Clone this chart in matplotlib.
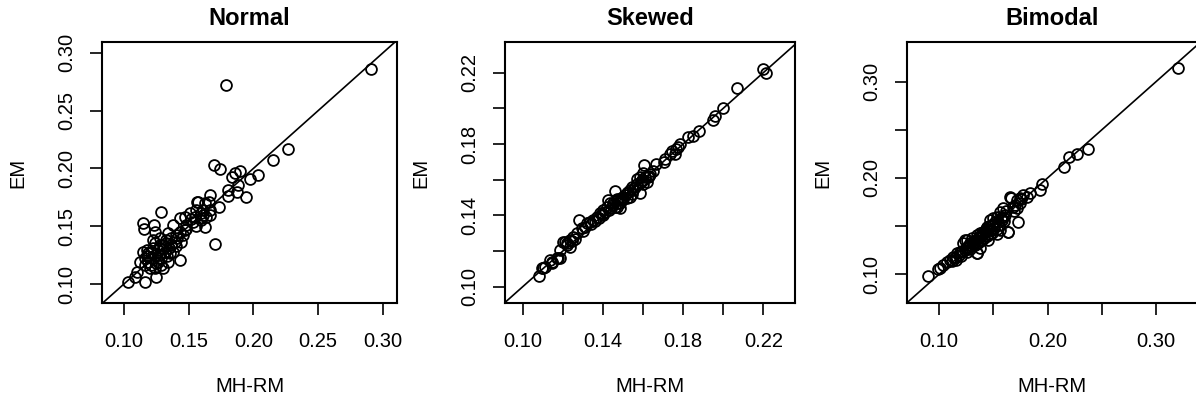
import numpy as np
import matplotlib
matplotlib.use("Agg")
import matplotlib.pyplot as plt

plt.rcParams['font.family'] = ['Liberation Sans', 'DejaVu Sans']

titles = ["Normal", "Skewed", "Bimodal"]

# Normal: (MH-RM, EM) pairs
normal_mhrm = [0.2910, 0.1790, 0.2265, 0.2149, 0.2034, 0.1970, 0.1939, 0.1893, 0.1854, 0.1836,
               0.1880, 0.1875, 0.1803, 0.1803, 0.1693, 0.1739, 0.1731, 0.1667, 0.1657, 0.1700,
               0.1623, 0.1611, 0.1662, 0.1636, 0.1598, 0.1662, 0.1623, 0.1572, 0.1598, 0.1559,
               0.1508, 0.1533, 0.1469, 0.1431, 0.1482, 0.1431, 0.1405, 0.1341, 0.1328, 0.1277,
               0.1239, 0.1226, 0.1175, 0.1149, 0.1162, 0.1187, 0.1213, 0.1239, 0.1264, 0.1290,
               0.1316, 0.1354, 0.1367, 0.1392, 0.1431, 0.1251, 0.1162, 0.1098, 0.1085, 0.1033,
               0.1123, 0.1290, 0.1149, 0.1154, 0.1233, 0.1239, 0.1379, 0.1187, 0.1239, 0.1264,
               0.1303, 0.1328, 0.1226, 0.1200, 0.1303, 0.1341, 0.1380, 0.1290, 0.1162, 0.1444,
               0.1469, 0.1567, 0.1598, 0.1546, 0.1483, 0.1520, 0.1410, 0.1350, 0.1270, 0.1210,
               0.1250, 0.1330, 0.1400, 0.1180, 0.1300, 0.1460, 0.1560, 0.1610, 0.1280, 0.1360]
normal_em = [0.2860, 0.2722, 0.2169, 0.2073, 0.1944, 0.1906, 0.1756, 0.1981, 0.1958, 0.1929,
             0.1857, 0.1794, 0.1814, 0.1762, 0.2030, 0.1993, 0.1664, 0.1771, 0.1713, 0.1347,
             0.1497, 0.1641, 0.1641, 0.1583, 0.1554, 0.1598, 0.1698, 0.1713, 0.1569, 0.1641,
             0.1612, 0.1540, 0.1583, 0.1569, 0.1511, 0.1453, 0.1424, 0.1439, 0.1381, 0.1396,
             0.1352, 0.1309, 0.1295, 0.1280, 0.1223, 0.1194, 0.1165, 0.1136, 0.1194, 0.1223,
             0.1280, 0.1266, 0.1338, 0.1367, 0.1208, 0.1064, 0.1021, 0.1107, 0.1064, 0.1021,
             0.1194, 0.1626, 0.1526, 0.1476, 0.1511, 0.1453, 0.1511, 0.1266, 0.1252, 0.1295,
             0.1338, 0.1352, 0.1381, 0.1136, 0.1136, 0.1194, 0.1280, 0.1165, 0.1165, 0.1367,
             0.1468, 0.1707, 0.1612, 0.1583, 0.1476, 0.1560, 0.1400, 0.1310, 0.1250, 0.1280,
             0.1180, 0.1240, 0.1330, 0.1240, 0.1300, 0.1420, 0.1500, 0.1600, 0.1340, 0.1400]

skewed_mhrm = [0.2200, 0.2212, 0.2067, 0.2000, 0.1959, 0.1951, 0.1880, 0.1849, 0.1825, 0.1783,
               0.1777, 0.1767, 0.1743, 0.1735, 0.1758, 0.1712, 0.1704, 0.1667, 0.1603, 0.1652,
               0.1637, 0.1627, 0.1602, 0.1586, 0.1571, 0.1594, 0.1619, 0.1585, 0.1535, 0.1518,
               0.1543, 0.1502, 0.1494, 0.1485, 0.1535, 0.1469, 0.1461, 0.1427, 0.1435, 0.1419,
               0.1402, 0.1385, 0.1369, 0.1352, 0.1336, 0.1319, 0.1311, 0.1294, 0.1452, 0.1469,
               0.1485, 0.1281, 0.1269, 0.1253, 0.1236, 0.1219, 0.1203, 0.1186, 0.1169, 0.1136,
               0.1103, 0.1082, 0.1186, 0.1144, 0.1095, 0.1112, 0.1145, 0.1178, 0.1211, 0.1220,
               0.1236, 0.1400, 0.1410, 0.1380, 0.1440, 0.1450, 0.1475, 0.1500, 0.1510, 0.1525,
               0.1550, 0.1560, 0.1570, 0.1590, 0.1600, 0.1610, 0.1340, 0.1360, 0.1395, 0.1430,
               0.1460, 0.1520, 0.1545, 0.1490, 0.1470, 0.1300, 0.1260, 0.1245, 0.1600, 0.1630]
skewed_em = [0.2222, 0.2201, 0.2114, 0.2003, 0.1960, 0.1935, 0.1871, 0.1846, 0.1839, 0.1800,
             0.1785, 0.1770, 0.1762, 0.1747, 0.1742, 0.1715, 0.1700, 0.1688, 0.1685, 0.1650,
             0.1632, 0.1614, 0.1635, 0.1616, 0.1605, 0.1597, 0.1588, 0.1524, 0.1543, 0.1524,
             0.1561, 0.1505, 0.1487, 0.1468, 0.1505, 0.1487, 0.1535, 0.1487, 0.1468, 0.1449,
             0.1430, 0.1412, 0.1393, 0.1374, 0.1365, 0.1356, 0.1337, 0.1328, 0.1459, 0.1449,
             0.1440, 0.1372, 0.1300, 0.1281, 0.1262, 0.1244, 0.1253, 0.1206, 0.1159, 0.1150,
             0.1103, 0.1061, 0.1159, 0.1141, 0.1103, 0.1113, 0.1131, 0.1159, 0.1253, 0.1234,
             0.1225, 0.1400, 0.1420, 0.1385, 0.1440, 0.1470, 0.1470, 0.1490, 0.1515, 0.1530,
             0.1545, 0.1560, 0.1575, 0.1590, 0.1600, 0.1615, 0.1350, 0.1370, 0.1410, 0.1430,
             0.1445, 0.1500, 0.1520, 0.1500, 0.1490, 0.1310, 0.1270, 0.1255, 0.1575, 0.1620]

bimodal_mhrm = [0.3207, 0.2377, 0.2270, 0.2202, 0.2156, 0.1947, 0.1931, 0.1839, 0.1808, 0.1778,
                0.1747, 0.1716, 0.1747, 0.1716, 0.1661, 0.1639, 0.1731, 0.1593, 0.1562, 0.1532,
                0.1547, 0.1501, 0.1470, 0.1485, 0.1439, 0.1455, 0.1409, 0.1378, 0.1347, 0.1301,
                0.1286, 0.1255, 0.1224, 0.1239, 0.1193, 0.1163, 0.1132, 0.1101, 0.1070, 0.1040,
                0.1009, 0.0993, 0.0901, 0.1455, 0.1378, 0.1347, 0.1538, 0.1655, 0.1240, 0.1348,
                0.1486, 0.1563, 0.1640, 0.1610, 0.1590, 0.1570, 0.1520, 0.1500, 0.1460, 0.1430,
                0.1420, 0.1400, 0.1390, 0.1370, 0.1360, 0.1340, 0.1320, 0.1310, 0.1280, 0.1270,
                0.1250, 0.1210, 0.1180, 0.1150, 0.1120, 0.1480, 0.1450, 0.1410, 0.1380, 0.1350,
                0.1330, 0.1300, 0.1620, 0.1680, 0.1700, 0.1760, 0.1580, 0.1550, 0.1510, 0.1440,
                0.1400, 0.1360, 0.1290, 0.1260, 0.1200, 0.1160, 0.1690, 0.1600, 0.1530, 0.1470]
bimodal_em = [0.3139, 0.2298, 0.2249, 0.2222, 0.2111, 0.1938, 0.1876, 0.1841, 0.1806, 0.1824,
              0.1789, 0.1772, 0.1737, 0.1685, 0.1789, 0.1443, 0.1547, 0.1685, 0.1651, 0.1599,
              0.1547, 0.1581, 0.1564, 0.1512, 0.1495, 0.1460, 0.1443, 0.1426, 0.1408, 0.1374,
              0.1322, 0.1356, 0.1322, 0.1252, 0.1235, 0.1218, 0.1183, 0.1149, 0.1131, 0.1097,
              0.1062, 0.1052, 0.0983, 0.1356, 0.1270, 0.1225, 0.1419, 0.1806, 0.1356, 0.1217,
              0.1425, 0.1460, 0.1442, 0.1620, 0.1600, 0.1580, 0.1540, 0.1520, 0.1500, 0.1470,
              0.1450, 0.1430, 0.1400, 0.1390, 0.1380, 0.1360, 0.1340, 0.1330, 0.1300, 0.1280,
              0.1270, 0.1240, 0.1200, 0.1170, 0.1140, 0.1460, 0.1420, 0.1380, 0.1350, 0.1320,
              0.1300, 0.1290, 0.1660, 0.1700, 0.1720, 0.1780, 0.1560, 0.1510, 0.1480, 0.1400,
              0.1360, 0.1320, 0.1260, 0.1230, 0.1190, 0.1150, 0.1660, 0.1550, 0.1470, 0.1420]

xs = [normal_mhrm, skewed_mhrm, bimodal_mhrm]
ys = [normal_em, skewed_em, bimodal_em]

# axis ranges and ticks (R style: minor unlabeled ticks where labels would overlap)
xlims = [(0.0831, 0.3108), (0.0912, 0.2358), (0.0702, 0.3387)]
ylims = [(0.0836, 0.3093), (0.0909, 0.2372), (0.0702, 0.3412)]
ticks = [[0.10, 0.15, 0.20, 0.25, 0.30],
         [0.10, 0.12, 0.14, 0.16, 0.18, 0.20, 0.22],
         [0.10, 0.15, 0.20, 0.25, 0.30]]
xlabels = [["0.10", "0.15", "0.20", "0.25", "0.30"],
           ["0.10", "", "0.14", "", "0.18", "", "0.22"],
           ["0.10", "", "0.20", "", "0.30"]]
ylabels = [["0.10", "0.15", "0.20", "0.25", "0.30"],
           ["0.10", "", "0.14", "", "0.18", "", "0.22"],
           ["0.10", "", "0.20", "", "0.30"]]

W, H = 1196, 401
boxes = [(102, 397), (505, 795), (906.7, 1198)]  # left/right edges in px
top, bottom = 42, 303

fig = plt.figure(figsize=(W / 100, H / 100), dpi=100)

for i in range(3):
    l, r = boxes[i]
    ax = fig.add_axes([l / W, (H - bottom) / H, (r - l) / W, (bottom - top) / H])
    ax.plot(xs[i], ys[i], 'o', mfc='none', mec='black', ms=7.8, mew=1.3, clip_on=False)
    ax.set_xlim(xlims[i])
    ax.set_ylim(ylims[i])
    lo = min(xlims[i][0], ylims[i][0])
    hi = max(xlims[i][1], ylims[i][1])
    ax.plot([lo, hi], [lo, hi], color='black', lw=1.2)

    ax.set_xticks(ticks[i])
    ax.set_xticklabels(xlabels[i])
    ax.set_yticks(ticks[i])
    ax.set_yticklabels(ylabels[i], rotation=90, va='center')
    ax.tick_params(direction='out', length=8.6, width=1.2, labelsize=14.5, pad=12)
    ax.tick_params(axis='y', pad=10)
    for s in ax.spines.values():
        s.set_linewidth(1.5)

    pw = r - l
    ph = bottom - top
    ax.set_xlabel("MH-RM", fontsize=14.5, va='center')
    ax.xaxis.set_label_coords(0.5, -84 / ph)
    ax.set_ylabel("EM", fontsize=14.5, va='center')
    ax.yaxis.set_label_coords(-84 / pw, 0.5)
    ax.set_title(titles[i], fontsize=17, fontweight='bold', y=1 + 24 / ph, va='center', pad=0)

fig.savefig("out.png", dpi=100)
